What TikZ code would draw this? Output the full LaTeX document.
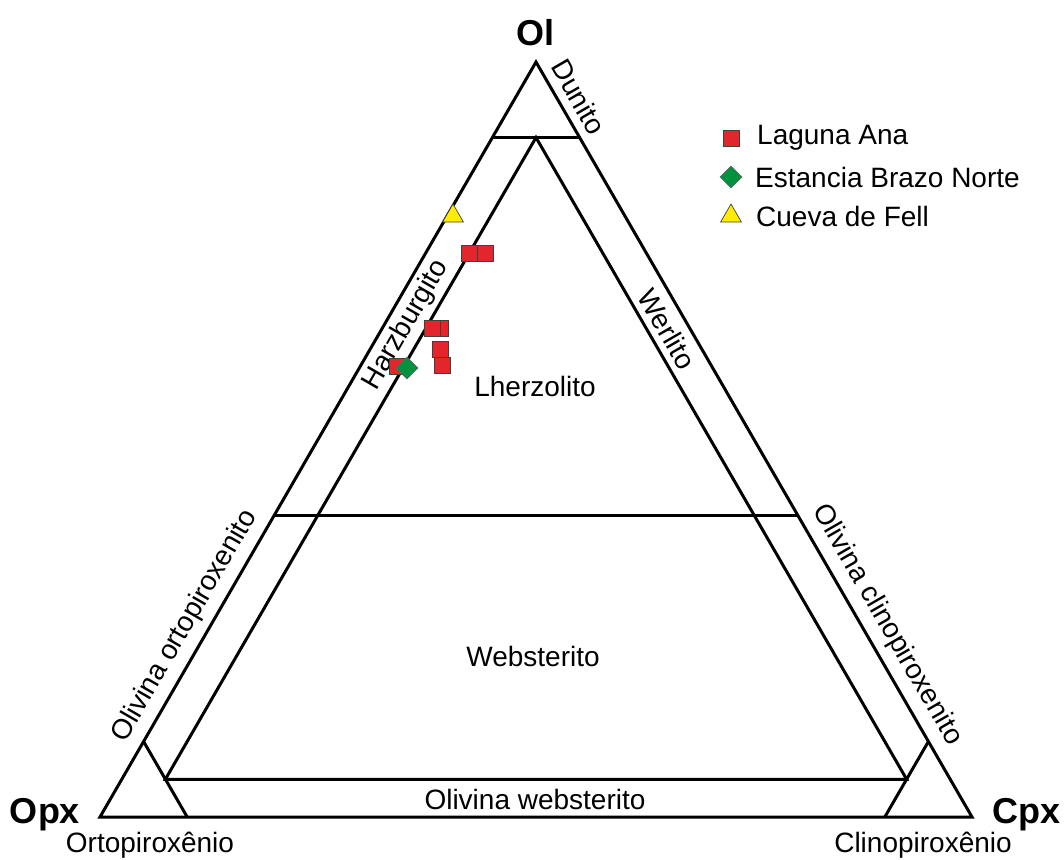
\documentclass[tikz,border=0pt]{standalone}
\usepackage{fontspec}
\setmainfont{Liberation Sans}
\usepackage{tikz}
\usetikzlibrary{shapes.geometric}

\definecolor{lagred}{HTML}{E3262B}
\definecolor{estgreen}{HTML}{00923F}
\definecolor{cueyellow}{HTML}{FFEC00}

\begin{document}
\begin{tikzpicture}[x=1pt, y=-1pt,
        edge/.style={line width=3pt, line join=miter},
        lbl/.style={font=\fontsize{28}{30}\selectfont, inner sep=0pt},
        vtx/.style={font=\fontsize{36}{40}\selectfont\bfseries, inner sep=0pt},
        sq/.style={rectangle, draw=black!75, fill=lagred, line width=0.7pt, minimum size=16pt, inner sep=0pt},
        dia/.style={diamond, draw=black!60, fill=estgreen, line width=0.7pt, minimum size=22pt, inner sep=0pt},
        tri/.style={regular polygon, regular polygon sides=3, draw=black!75, fill=cueyellow, line width=0.7pt, minimum size=24pt, inner sep=0pt}
    ]
        \useasboundingbox (0,0) rectangle (1064,859);

        % Corners
        \coordinate (ol) at (536,62);
        \coordinate (opx) at (100,817);
        \coordinate (cpx) at (972,817);

        % Field boundaries
        \coordinate (dunL) at (barycentric cs:ol=0.9,opx=0.1);
        \coordinate (dunR) at (barycentric cs:ol=0.9,cpx=0.1);
        \coordinate (lhzL) at (barycentric cs:ol=0.4,opx=0.6);
        \coordinate (lhzR) at (barycentric cs:ol=0.4,cpx=0.6);
        \coordinate (inT) at (barycentric cs:ol=0.9,opx=0.05,cpx=0.05);
        \coordinate (inL) at (barycentric cs:ol=0.05,opx=0.9,cpx=0.05);
        \coordinate (inR) at (barycentric cs:ol=0.05,opx=0.05,cpx=0.9);
        \coordinate (opxA) at (barycentric cs:ol=0.1,opx=0.9);
        \coordinate (opxB) at (barycentric cs:opx=0.9,cpx=0.1);
        \coordinate (cpxA) at (barycentric cs:ol=0.1,cpx=0.9);
        \coordinate (cpxB) at (barycentric cs:opx=0.1,cpx=0.9);

        % Edges
        \draw[edge] (ol) -- (opx) -- (cpx) -- cycle;
        \draw[edge] (dunL) -- (dunR);
        \draw[edge] (lhzL) -- (lhzR);
        \draw[edge] (inT) -- (inL) -- (inR) -- cycle;
        \draw[edge] (opxA) -- (opxB);
        \draw[edge] (cpxA) -- (cpxB);

        % Corner names
        \node[vtx] (olLbl) at (535,33) {Ol};
        \node[vtx] (opxLbl) at (45,815) {Opx};
        \node[vtx] (cpxLbl) at (1026,815) {Cpx};
        \node[lbl] (orto) at (150,845) {Ortopiroxênio};
        \node[lbl] (clino) at (923,845) {Clinopiroxênio};

        % Fields
        \node[lbl, rotate=-60] (dun) at (579,97) {Dunito};
        \node[lbl, rotate=60] (harz) at (406,325) {Harzburgito};
        \node[lbl, rotate=-60] (werl) at (667,329) {Werlito};
        \node[lbl] (lherz) at (535,386) {Lherzolito};
        \node[lbl, rotate=60] (olopx) at (185,626) {Olivina ortopiroxenito};
        \node[lbl, rotate=-60] (olcpx) at (887,625) {Olivina clinopiroxenito};
        \node[lbl] (webst) at (533,656) {Websterito};
        \node[lbl] (olweb) at (535,799) {Olivina websterito};

        % Samples
        \node[sq] (la1) at (397,366) {};
        \node[dia] (eb1) at (407,368) {};
        \node[tri] (cf1) at (453,216) {};
        \node[sq] (la2) at (469,253.5) {};
        \node[sq] (la3) at (485,253.5) {};
        \node[sq] (la4) at (440,328) {};
        \node[sq] (la5) at (432.5,328) {};
        \node[sq] (la6) at (440,349) {};
        \node[sq] (la7) at (442.5,365.5) {};

        % Legend
        \node[sq] (keyLa) at (731,138) {};
        \node[lbl, anchor=west] (keyLaTxt) at (757,138) {Laguna Ana};
        \node[dia] (keyEb) at (731,177) {};
        \node[lbl, anchor=west] (keyEbTxt) at (755,177) {Estancia Brazo Norte};
        \node[tri] (keyCf) at (731,216) {};
        \node[lbl, anchor=west] (keyCfTxt) at (756,216) {Cueva de Fell};

    \end{tikzpicture}
\end{document}
